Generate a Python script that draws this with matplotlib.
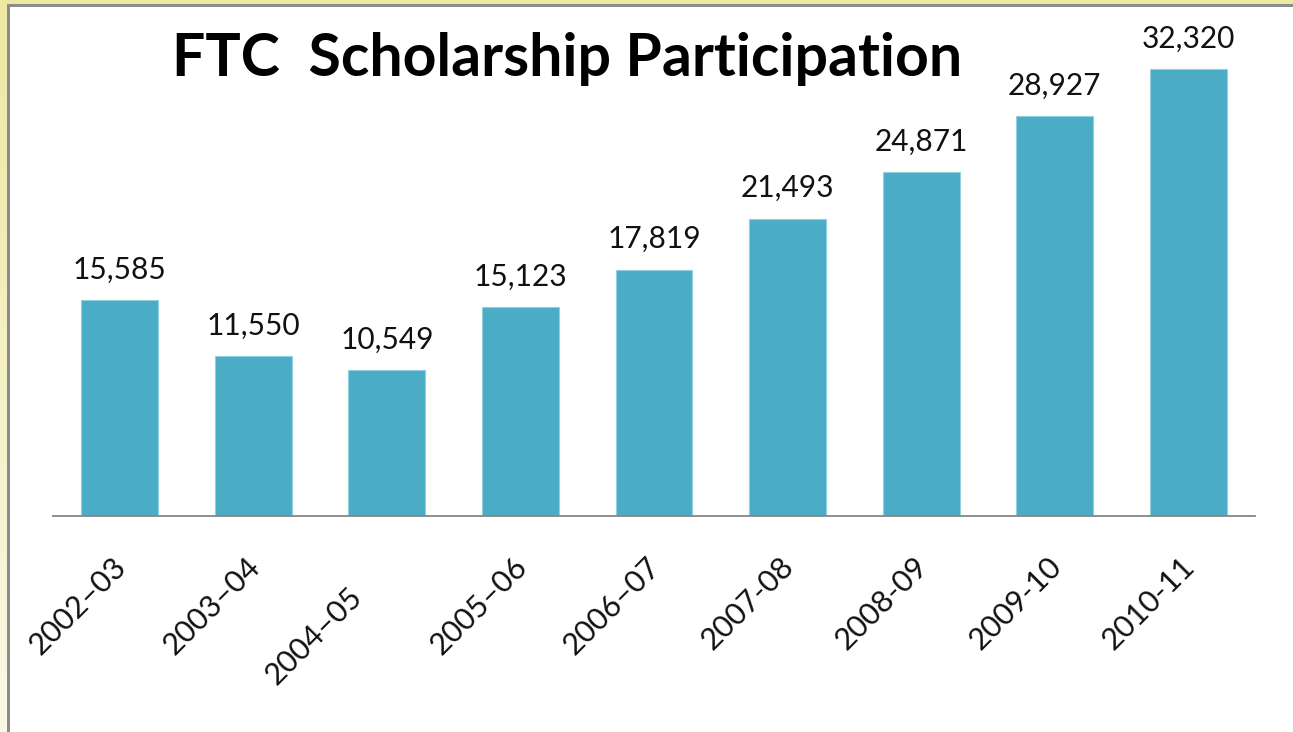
import matplotlib
matplotlib.use("Agg")
import matplotlib.pyplot as plt
import matplotlib.transforms as mtransforms
from matplotlib.patches import Rectangle
import numpy as np

# ---- data ----
seasons = ["2002–03", "2003–04", "2004–05", "2005–06", "2006–07",
           "2007-08", "2008-09", "2009-10", "2010-11"]
participants = [15585, 11550, 10549, 15123, 17819, 21493, 24871, 28927, 32320]
title_text = "FTC  Scholarship Participation"

W, H = 1293, 732
DPI = 100
fig = plt.figure(figsize=(W / DPI, H / DPI), dpi=DPI)
fig.patch.set_facecolor("white")
plt.rcParams["font.family"] = ["Lato", "DejaVu Sans"]

def fx(px):
    return px / W

def fy(py):
    return 1 - py / H

# frame decoration: yellow strip top and left, gray border
fig.patches.append(Rectangle((0, fy(4)), 1, 4 / H, transform=fig.transFigure,
                             facecolor="#ede8a2", edgecolor="none", zorder=0))
grad_ax = fig.add_axes([0, 0, fx(7), fy(4)])
grad = np.linspace(0, 1, 256).reshape(-1, 1)
top_c = np.array([0xed, 0xe8, 0xa2]) / 255
bot_c = np.array([0xfa, 0xf8, 0xe6]) / 255
img = top_c[None, None, :] * (1 - grad[:, :, None]) + bot_c[None, None, :] * grad[:, :, None]
grad_ax.imshow(img, aspect="auto", extent=[0, 1, 0, 1])
grad_ax.axis("off")
fig.patches.append(Rectangle((fx(7), fy(7)), 1, 3 / H, transform=fig.transFigure,
                             facecolor="#8c8c8c", edgecolor="none", zorder=1))
fig.patches.append(Rectangle((fx(7), 0), 3 / W, fy(4), transform=fig.transFigure,
                             facecolor="#8c8c8c", edgecolor="none", zorder=1))

# main axes
ax_left, ax_right = 53, 1255
ax_bottom, ax_top = 516, 20
ax = fig.add_axes([fx(ax_left), fy(ax_bottom), (ax_right - ax_left) / W,
                   (ax_bottom - ax_top) / H])
ax.set_facecolor("none")
x = np.arange(len(seasons))
bars = ax.bar(x, participants, width=0.575, color="#4bacc6",
              edgecolor="#92cfe0", linewidth=0.8, zorder=2)
ax.set_xlim(-0.5, len(seasons) - 0.5)
val_per_px = 32320 / (516 - 69)
ax.set_ylim(0, val_per_px * (ax_bottom - ax_top))

for s in ["top", "left", "right"]:
    ax.spines[s].set_visible(False)
ax.spines["bottom"].set_color("#868686")
ax.spines["bottom"].set_linewidth(1.3)
ax.set_yticks([])
ax.set_xticks(x)
ax.set_xticklabels([])
ax.tick_params(axis="x", length=0)

# value labels
for xi, v in zip(x, participants):
    ax.annotate(f"{v:,}", (xi, v), xytext=(0, 15.5), textcoords="offset points",
                ha="center", va="baseline", fontsize=21.5, color="#111111",
                clip_on=False)

# category labels, rotated
blend = mtransforms.blended_transform_factory(ax.transData, ax.transAxes)
for i, lab in enumerate(seasons):
    dx, dy = 2 / DPI, -46 / DPI
    if i == 2:
        dx -= 31 / DPI
        dy -= 30 / DPI
    tr = blend + mtransforms.ScaledTranslation(dx, dy, fig.dpi_scale_trans)
    ax.text(i, 0, lab, transform=tr, rotation=45, rotation_mode="anchor",
            ha="right", va="center", fontsize=22, color="#111111")

fig.text(fx(567), fy(76), title_text, ha="center", va="baseline",
         fontsize=42.5, fontweight="bold", color="black")

fig.savefig("out.png", dpi=DPI)
